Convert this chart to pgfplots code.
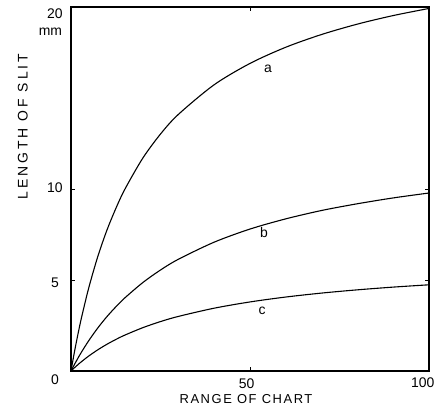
\documentclass[border=0pt]{standalone}
\usepackage{fontspec}
\setmainfont{Liberation Sans}
\usepackage{pgfplots}
\pgfplotsset{compat=1.18}
\newcommand{\tl}{\fontsize{14}{16}\selectfont}
\newcommand{\al}{\fontsize{13}{15}\selectfont\addfontfeature{LetterSpace=12}}
\newcommand{\yl}{\fontsize{14}{16}\selectfont\addfontfeature{LetterSpace=21}}
\begin{document}
\begin{tikzpicture}[x=1bp,y=1bp]
\useasboundingbox (-71,-40) rectangle (367,371);
\begin{axis}[at={(0,0)},anchor=south west,
  width=358bp,height=364bp,scale only axis,
  xmin=0,xmax=100,ymin=0,ymax=20,
  xtick={50,100}, ytick={5,10,20},
  xticklabels={}, yticklabels={},
  tick align=inside, major tick length=4bp,
  tick style={line width=0.8bp,black},
  axis line style={line width=1.7bp},
  clip=false]
\addplot[smooth,line width=1.1bp] coordinates {
(0,0) (1,1.09) (2,2.08) (3,2.99) (5,4.60) (7.5,6.30) (10,7.72) (12.5,8.92) (15,9.97) (20,11.68) (25,13.02) (30,14.10) (40,15.73) (50,16.90) (60,17.79) (70,18.49) (80,19.06) (90,19.53) (100,19.92)};
\addplot[smooth,line width=1.1bp] coordinates {
(0,0) (1,0.374) (2,0.728) (3,1.062) (5,1.68) (7.5,2.37) (10,2.98) (12.5,3.52) (15,4.01) (20,4.85) (25,5.55) (30,6.14) (40,7.08) (50,7.80) (60,8.36) (70,8.82) (80,9.19) (90,9.51) (100,9.78)};
\addplot[smooth,line width=1.1bp] coordinates {
(0,0) (1,0.185) (2,0.36) (3,0.525) (5,0.829) (7.5,1.167) (10,1.465) (12.5,1.731) (15,1.969) (20,2.377) (25,2.716) (30,3.0) (40,3.452) (50,3.795) (60,4.065) (70,4.282) (80,4.46) (90,4.61) (100,4.737)};
\node[font=\tl] at (axis cs:55,16.6) {a};
\node[font=\tl] at (axis cs:53.9,7.6) {b};
\node[font=\tl] at (axis cs:53.4,3.3) {c};
\end{axis}
\node[font=\tl] at (-16,-9) {0};
\node[font=\tl] at (-16,88) {5};
\node[font=\tl] at (-16,183) {10};
\node[font=\tl] at (-16,357) {20};
\node[font=\tl] at (-20.5,339) {mm};
\node[font=\tl] at (175.7,-13) {50};
\node[font=\tl] at (351.7,-12) {100};
\node[font=\al] at (175,-28) {RANGE OF CHART};
\node[font=\yl,rotate=90] at (-48.3,244.5) {LENGTH OF SLIT};
\end{tikzpicture}
\end{document}
